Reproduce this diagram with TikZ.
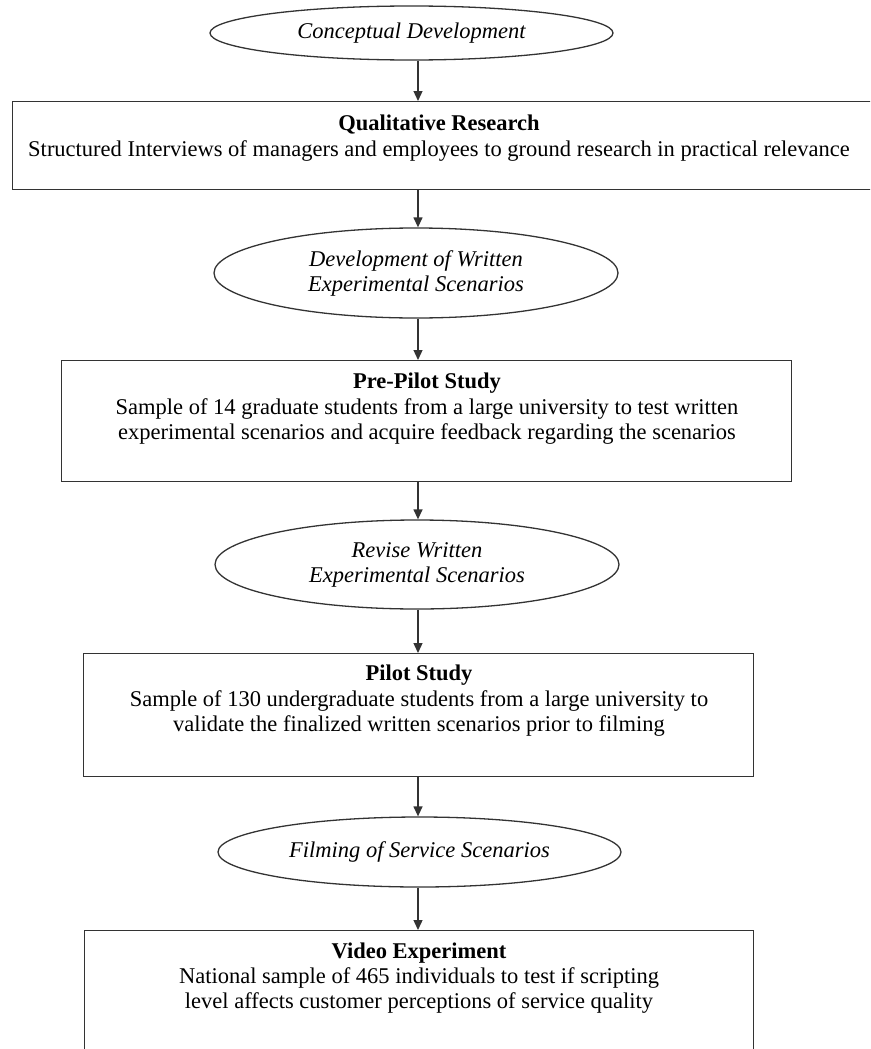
\documentclass[tikz,border=0pt]{standalone}
\usepackage{fontspec}
\setmainfont{Liberation Serif}
\usetikzlibrary{shapes.geometric,arrows.meta}
\begin{document}
\begin{tikzpicture}[x=1pt,y=-1pt,
  lin/.style={line width=1.3pt, draw=black!80},
  oval/.style={ellipse, lin, inner sep=0pt, align=center, font=\fontsize{22.5}{25}\selectfont\itshape},
  stagebox/.style={rectangle, lin, inner sep=0pt, anchor=north west},
  boxtext/.style={anchor=north, inner sep=0pt, align=center, font=\fontsize{22.5}{24.5}\selectfont},
  arr/.style={lin, -{Triangle[length=10pt,width=9pt]}}]
\useasboundingbox (0,0) rectangle (870,1049);
\clip (0,0) rectangle (870,1049);
\coordinate (spine) at (418,0);

% ellipses
\node[oval, minimum width=403pt, minimum height=54pt] (e1) at (411.5,33) {Conceptual Development};
\node[oval, minimum width=404pt, minimum height=90pt] (e2) at (416,273) {Development of Written\\Experimental Scenarios};
\node[oval, minimum width=404pt, minimum height=89pt] (e3) at (417,564.5) {Revise Written\\Experimental Scenarios};
\node[oval, minimum width=403pt, minimum height=70pt] (e4) at (419.5,852) {Filming of Service Scenarios};

% boxes
\node[stagebox, minimum width=860pt, minimum height=88pt] (b1) at (12,101) {};
\node[stagebox, minimum width=730pt, minimum height=121pt] (b2) at (61,360) {};
\node[stagebox, minimum width=670pt, minimum height=123pt] (b3) at (83,653) {};
\node[stagebox, minimum width=669pt, minimum height=220pt] (b4) at (84,930) {};

% box texts
\node[boxtext] (t1) at (439,112) {\rule{0pt}{18pt}\textbf{Qualitative Research}\\[1.5pt]
  Structured Interviews of managers and employees to ground research in practical relevance};
\node[boxtext] (t2) at (427,370) {\rule{0pt}{18pt}\textbf{Pre-Pilot Study}\\[2pt]
  Sample of 14 graduate students from a large university to test written\\
  experimental scenarios and acquire feedback regarding the scenarios};
\node[boxtext] (t3) at (419,662) {\rule{0pt}{18pt}\textbf{Pilot Study}\\[2pt]
  Sample of 130 undergraduate students from a large university to\\
  validate the finalized written scenarios prior to filming};
\node[boxtext] (t4) at (419,940) {\rule{0pt}{18pt}\textbf{Video Experiment}\\[1pt]
  National sample of 465 individuals to test if scripting\\
  level affects customer perceptions of service quality};

% connectors
\draw[arr] (e1.south -| spine) -- (b1.north -| spine);
\draw[arr] (b1.south -| spine) -- (e2.north -| spine);
\draw[arr] (e2.south -| spine) -- (b2.north -| spine);
\draw[arr] (b2.south -| spine) -- (e3.north -| spine);
\draw[arr] (e3.south -| spine) -- (b3.north -| spine);
\draw[arr] (b3.south -| spine) -- (e4.north -| spine);
\draw[arr] (e4.south -| spine) -- (b4.north -| spine);
\end{tikzpicture}
\end{document}
